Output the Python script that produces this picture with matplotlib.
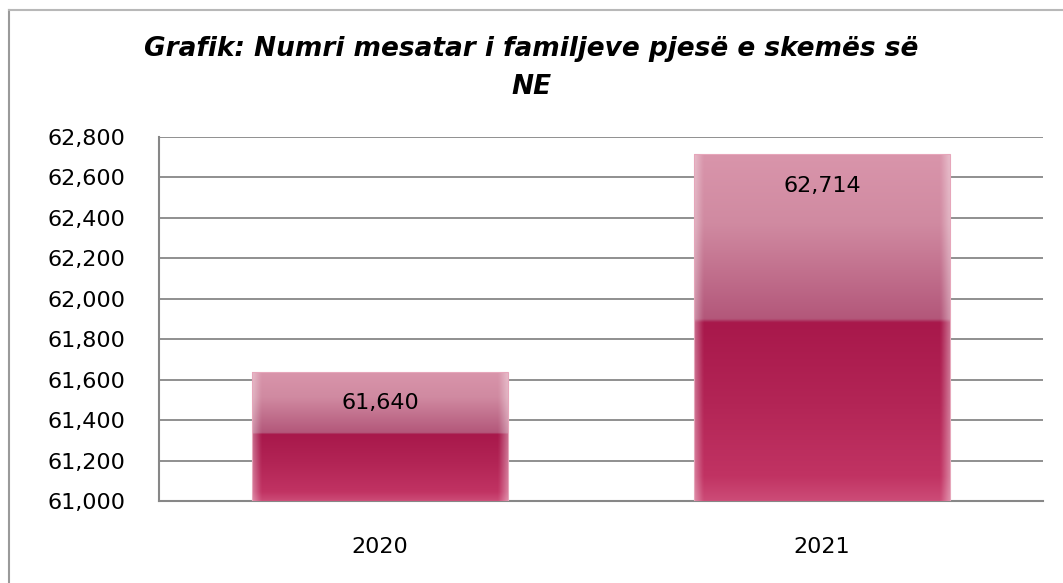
import numpy as np
import matplotlib.pyplot as plt
from matplotlib.colors import to_rgb
from matplotlib.lines import Line2D

years = ["2020", "2021"]
families = [61640, 62714]
title = "Grafik: Numri mesatar i familjeve pjesë e skemës së\nNE"

GRID = "#878787"


def hex_stops(stops):
    return [(p, np.array(to_rgb(c))) for p, c in stops]


# vertical colour profile of the glossy bar (0 = top, 1 = bottom)
STOPS = hex_stops([
    (0.00, "#d995ab"),
    (0.20, "#d08aa1"),
    (0.475, "#b3577a"),
    (0.485, "#a8184b"),
    (0.72, "#b32556"),
    (0.93, "#c13363"),
    (1.00, "#cc4c77"),
])


def bar_image(h=400, w=160):
    t = np.linspace(0, 1, h)
    col = np.zeros((h, 3))
    for k in range(3):
        col[:, k] = np.interp(t, [p for p, _ in STOPS], [c[k] for _, c in STOPS])
    img = np.repeat(col[:, None, :], w, axis=1)
    x = np.linspace(0, 1, w)
    # lighter glassy rims at the left and right edges
    edge = np.clip(1 - np.minimum(x, 1 - x) / 0.035, 0, 1) * 0.35
    img = img + (1 - img) * edge[None, :, None]
    return np.clip(img, 0, 1)


fig = plt.figure(figsize=(10.63, 5.83), dpi=100)
ax = fig.add_axes([159 / 1063, 1 - 501 / 583, (1043 - 159) / 1063, (501 - 137) / 583])

bars = ax.bar(years, families, width=0.577, color="none", edgecolor="none", zorder=3)
ax.set_ylim(61000, 62800)
ax.set_xlim(-0.5, 1.5)

img = bar_image()
for b in bars:
    x0 = b.get_x()
    im = ax.imshow(img, extent=(x0, x0 + b.get_width(), 61000, b.get_height()),
                   aspect="auto", zorder=3, interpolation="bilinear")
    im.set_clip_path(b)
    ax.add_patch(plt.Rectangle((x0, 61000), b.get_width(), b.get_height() - 61000,
                               fill=False, edgecolor="#e6a6ba", lw=0.8, zorder=4))

for year, val in zip(years, families):
    ax.annotate(f"{val:,}", (year, val), xytext=(0, -22.5), textcoords="offset points",
                ha="center", va="center", fontsize=16, color="black", zorder=5)

ax.set_yticks(np.arange(61000, 62801, 200))
ax.yaxis.set_major_formatter(plt.FuncFormatter(lambda v, p: f"{int(v):,}"))
ax.grid(axis="y", color=GRID, lw=1.3, zorder=0)
ax.set_axisbelow(True)
ax.tick_params(axis="y", length=0, pad=24, labelsize=16)
ax.tick_params(axis="x", length=0, pad=26, labelsize=16)
for s in ["top", "right"]:
    ax.spines[s].set_visible(False)
for s in ["left", "bottom"]:
    ax.spines[s].set_color(GRID)
    ax.spines[s].set_linewidth(1.5)

fig.text(531 / 1063, 1 - 68 / 583, title, ha="center", va="center", fontsize=19,
         fontstyle="italic", fontweight="bold", linespacing=1.65)

# outer chart border (left and top visible)
fig.add_artist(Line2D([9 / 1063, 9 / 1063], [0, 1 - 10 / 583], transform=fig.transFigure,
                      color="#9a9a9a", lw=1.5))
fig.add_artist(Line2D([9 / 1063, 1], [1 - 10 / 583, 1 - 10 / 583], transform=fig.transFigure,
                      color="#b8b8b8", lw=1.5))

fig.savefig("out.png", dpi=100)
